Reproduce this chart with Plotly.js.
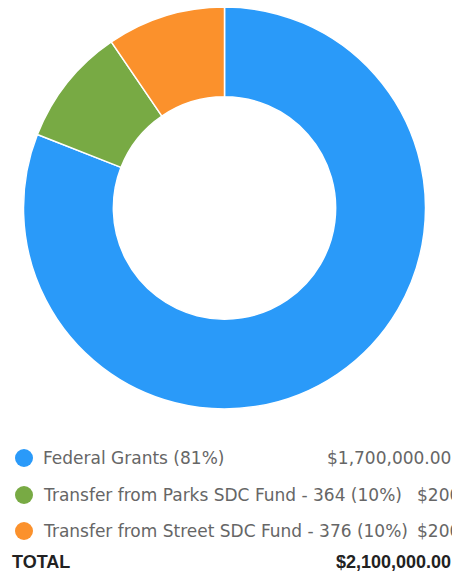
<!DOCTYPE html>
<html>
<head>
<meta charset="utf-8">
<script src="https://cdn.plot.ly/plotly-3.0.1.min.js"></script>
<style>
  html, body { margin: 0; padding: 0; background: #fff; overflow: hidden; }
  #chart { width: 452px; height: 575px; overflow: hidden; }
</style>
</head>
<body>
<div id="chart"></div>
<script>
// ---- data ----
const categories = [
  "Federal Grants",
  "Transfer from Parks SDC Fund - 364",
  "Transfer from Street SDC Fund - 376"
];
const amounts = [1700000, 200000, 200000];
const percentLabels = ["81%", "10%", "10%"];
const sliceColors = ["#2A9AF9", "#78AA44", "#FB912C"];
const totalLabel = "TOTAL";

// ---- layout helpers ----
const W = 452, H = 575;
const px = x => x / W;
const py = y => 1 - y / H;

const fmt = v => "$" + v.toLocaleString("en-US", {minimumFractionDigits: 2, maximumFractionDigits: 2});
const total = amounts.reduce((a, b) => a + b, 0);

const trace = {
  type: "pie",
  labels: categories,
  values: amounts,
  hole: 0.553,
  sort: false,
  direction: "clockwise",
  rotation: 0,
  textinfo: "none",
  hoverinfo: "label+value+percent",
  marker: { colors: sliceColors, line: { color: "#ffffff", width: 1.5 } },
  domain: { x: [px(23), px(426)], y: [py(409), py(7)] },
  showlegend: false
};

const rowY = [458, 495, 531];
const labelFont = { family: "DejaVu Sans", size: 17, color: "#666666" };
const annotations = [];
const shapes = [];

categories.forEach((c, i) => {
  const y = rowY[i];
  shapes.push({
    type: "circle", xref: "paper", yref: "paper",
    x0: px(15), x1: px(33), y0: py(y + 9), y1: py(y - 9),
    fillcolor: sliceColors[i], line: { width: 0 }
  });
  annotations.push({
    xref: "paper", yref: "paper", x: px(41), y: py(y),
    xanchor: "left", yanchor: "middle", showarrow: false,
    text: c + " (" + percentLabels[i] + ")", font: labelFont
  });
  if (i === 0) {
    annotations.push({
      xref: "paper", yref: "paper", x: px(453), y: py(y),
      xanchor: "right", yanchor: "middle", showarrow: false,
      text: fmt(amounts[i]), font: labelFont
    });
  } else {
    annotations.push({
      xref: "paper", yref: "paper", x: px(415), y: py(y),
      xanchor: "left", yanchor: "middle", showarrow: false,
      text: fmt(amounts[i]), font: labelFont
    });
  }
});

const boldFont = { family: "Liberation Sans", size: 18, color: "#222222", weight: "bold" };
annotations.push({
  xref: "paper", yref: "paper", x: px(10), y: py(562),
  xanchor: "left", yanchor: "middle", showarrow: false,
  text: "<b>" + totalLabel + "</b>", font: boldFont
});
annotations.push({
  xref: "paper", yref: "paper", x: px(453), y: py(562),
  xanchor: "right", yanchor: "middle", showarrow: false,
  text: "<b>" + fmt(total) + "</b>", font: boldFont
});

const layout = {
  width: W, height: H,
  margin: { l: 0, r: 0, t: 0, b: 0 },
  paper_bgcolor: "#ffffff",
  plot_bgcolor: "#ffffff",
  showlegend: false,
  annotations: annotations,
  shapes: shapes
};

Plotly.newPlot("chart", [trace], layout, { displayModeBar: false, staticPlot: true });
</script>
</body>
</html>
